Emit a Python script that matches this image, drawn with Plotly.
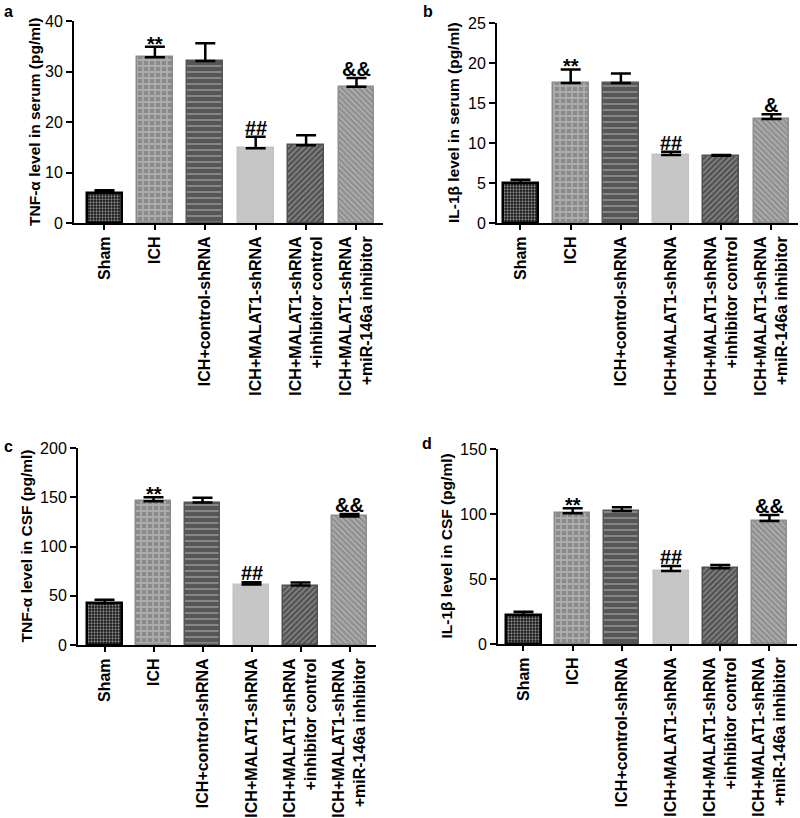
import plotly.graph_objects as go

# ---------------- data ----------------
groups = ["Sham", "ICH", "ICH+control-shRNA", "ICH+MALAT1-shRNA",
          "ICH+MALAT1-shRNA<br>+inhibitor control", "ICH+MALAT1-shRNA<br>+miR-146a inhibitor"]

tnf_serum = [6.0, 32.8, 32.1, 14.8, 15.4, 27.0]
tnf_serum_err = [0.5, 2.1, 3.5, 2.3, 2.0, 1.7]

il1b_serum = [5.0, 17.5, 17.5, 8.5, 8.4, 13.0]
il1b_serum_err = [0.4, 1.7, 1.2, 0.4, 0.1, 0.6]

tnf_csf = [42.4, 146.0, 144.6, 61.4, 60.4, 130.5]
tnf_csf_err = [3.6, 4.0, 4.9, 2.3, 3.0, 2.4]

il1b_csf = [22.3, 100.5, 102.3, 56.2, 58.2, 94.6]
il1b_csf_err = [2.6, 3.9, 2.8, 3.8, 2.6, 4.6]

marks_a = ["", "**", "", "##", "", "&&"]
marks_b = ["", "**", "", "##", "", "&"]
marks_c = ["", "**", "", "##", "", "&&"]
marks_d = ["", "**", "", "##", "", "&&"]

titles = ["TNF-α level in serum (pg/ml)", "IL-1β level in serum (pg/ml)",
          "TNF-α level in CSF (pg/ml)", "IL-1β level in CSF (pg/ml)"]
panel_letters = ["a", "b", "c", "d"]
y_ranges = [[0, 40], [0, 25], [0, 200], [0, 150]]
y_dticks = [10, 5, 50, 50]

# ---------------- styles ----------------
FONT = "Liberation Sans"
W, H = 800, 818

bar_styles = [
    dict(bg="#111111", fg="#ffffff", shape=".", size=3, solid=0.45, line="#000000", lw=2.5),
    dict(bg="#8a8a8a", fg="#cdcdcd", shape="+", size=6, solid=0.5, line="#8a8a8a", lw=1.5),
    dict(bg="#565656", fg="#e6e6e6", shape="-", size=6, solid=0.22, line="#565656", lw=1.5),
    dict(bg="#c6c6c6", fg="#c6c6c6", shape="", size=6, solid=0.3, line="#c2c2c2", lw=1.5),
    dict(bg="#505050", fg="#bdbdbd", shape="/", size=4, solid=0.4, line="#505050", lw=1.5),
    dict(bg="#8e8e8e", fg="#d4d4d4", shape="\\", size=4, solid=0.4, line="#8e8e8e", lw=1.5),
]

# pixel layout of each panel: (x_left, x_right, y_top, y_bottom, xrange)
panels_px = [
    (74, 383, 21, 223, [-0.605, 5.526]),
    (497, 798, 23, 223, [-0.468, 5.528]),
    (78, 376, 448, 645, [-0.541, 5.54]),
    (498, 797, 449, 644, [-0.518, 5.56]),
]
title_x_px = [35, 453, 26, 446]
letter_pos = [(8, 11), (428, 11), (8, 446), (427, 443)]

datasets = [
    (tnf_serum, tnf_serum_err, marks_a),
    (il1b_serum, il1b_serum_err, marks_b),
    (tnf_csf, tnf_csf_err, marks_c),
    (il1b_csf, il1b_csf_err, marks_d),
]

fig = go.Figure()
annotations = []
layout_axes = {}
xs = list(range(len(groups)))

for p, (vals, errs, marks) in enumerate(datasets):
    sfx = "" if p == 0 else str(p + 1)
    xa, ya = "x" + sfx, "y" + sfx
    for i in range(len(groups)):
        st = bar_styles[i]
        pattern = dict(shape=st["shape"], fgcolor=st["fg"], bgcolor=st["bg"],
                       size=st["size"], solidity=st["solid"])
        fig.add_trace(go.Bar(
            x=[xs[i]], y=[vals[i]], width=0.71,
            marker=dict(color=st["bg"], pattern=pattern,
                        line=dict(color=st["line"], width=st["lw"])),
            error_y=dict(type="data", symmetric=False, array=[errs[i]], arrayminus=[0],
                         color="black", thickness=2.5, width=10),
            xaxis=xa, yaxis=ya, showlegend=False, hoverinfo="skip",
        ))
        if marks[i]:
            annotations.append(dict(
                x=xs[i], y=vals[i] + errs[i], xref=xa, yref=ya, text="<b>%s</b>" % marks[i],
                showarrow=False, yanchor="bottom",
                yshift=-10 if marks[i] == "**" else -4,
                font=dict(family=FONT, size=20, color="black")))
    xl, xr, yt, yb, xr_range = panels_px[p]
    layout_axes["xaxis" + sfx] = dict(
        domain=[xl / W, xr / W], anchor=ya, range=xr_range,
        tickvals=xs, ticktext=["<b>%s</b>" % g for g in groups], tickangle=-90,
        tickfont=dict(family=FONT, size=16, color="black"),
        showline=True, linecolor="black", linewidth=2,
        ticks="outside", ticklen=5, tickwidth=2, tickcolor="black",
        showgrid=False, zeroline=False, fixedrange=True, automargin=False)
    layout_axes["yaxis" + sfx] = dict(
        domain=[1 - yb / H, 1 - yt / H], anchor=xa, range=y_ranges[p], dtick=y_dticks[p],
        tickfont=dict(family=FONT, size=16, color="black"),
        tickformat="d",
        showline=True, linecolor="black", linewidth=2,
        ticks="outside", ticklen=6, tickwidth=2, tickcolor="black",
        showgrid=False, zeroline=False, automargin=False, fixedrange=True)
    # y-axis title
    annotations.append(dict(
        x=title_x_px[p] / W, y=1 - (yt + yb) / 2 / H, xref="paper", yref="paper",
        text="<b>%s</b>" % titles[p], textangle=-90, showarrow=False,
        xanchor="center", yanchor="middle",
        font=dict(family=FONT, size=15.5, color="black")))
    lx, ly = letter_pos[p]
    annotations.append(dict(
        x=lx / W, y=1 - ly / H, xref="paper", yref="paper",
        text="<b>%s</b>" % panel_letters[p], showarrow=False,
        xanchor="center", yanchor="middle",
        font=dict(family=FONT, size=16, color="black")))

fig.update_layout(
    width=W, height=H, margin=dict(l=0, r=0, t=0, b=0, pad=0), autosize=False,
    paper_bgcolor="white", plot_bgcolor="white",
    bargap=0, annotations=annotations, **layout_axes)

fig.write_html("out.html", config={"displayModeBar": False},
               post_script="document.body.style.margin='0';document.body.style.padding='0';")
